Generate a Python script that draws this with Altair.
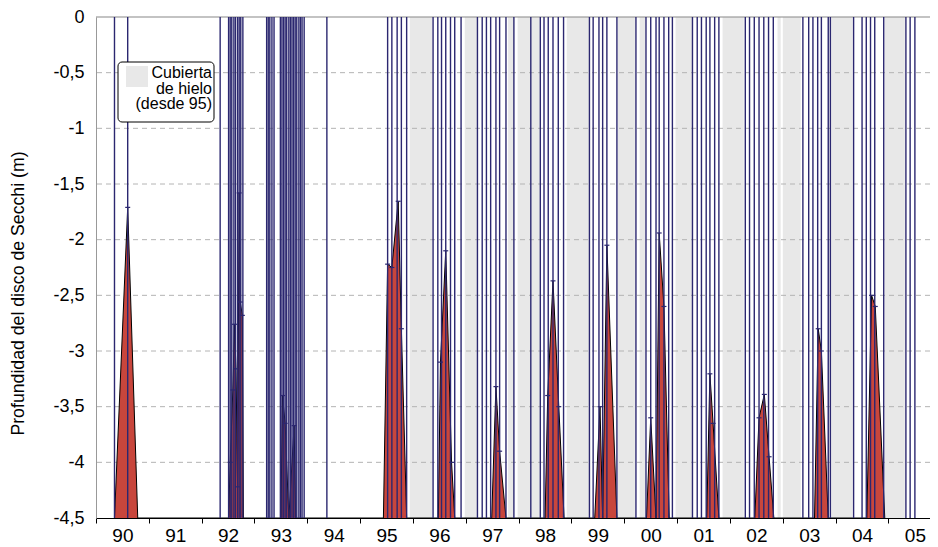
import altair as alt
import pandas as pd

# ---------------- data ----------------
area_year = [
    1990.35, 1990.60, 1990.79,
    1992.51, 1992.54, 1992.59, 1992.62, 1992.65, 1992.68, 1992.71, 1992.73, 1992.77, 1992.79,
    1993.50, 1993.53, 1993.58, 1993.65, 1993.75, 1993.78,
    1995.44, 1995.52, 1995.60, 1995.72, 1995.78, 1995.88,
    1996.48, 1996.52, 1996.62, 1996.73, 1996.79,
    1997.49, 1997.57, 1997.64, 1997.76,
    1998.50, 1998.55, 1998.65, 1998.76, 1998.86,
    1999.44, 1999.54, 1999.59, 1999.67, 1999.86,
    2000.42, 2000.50, 2000.60, 2000.66, 2000.75, 2000.85,
    2001.56, 2001.62, 2001.68, 2001.79,
    2002.47, 2002.55, 2002.65, 2002.74, 2002.83,
    2003.60, 2003.67, 2003.73, 2003.86,
    2004.59, 2004.68, 2004.75, 2004.93,
]
area_depth = [
    -4.5, -1.71, -4.5,
    -4.5, -4.0, -3.35, -2.76, -3.16, -4.22, -1.58, -2.56, -2.68, -4.5,
    -4.5, -3.40, -3.65, -4.5, -3.67, -4.5,
    -4.5, -2.22, -2.25, -1.655, -2.80, -4.5,
    -4.5, -3.10, -2.10, -4.0, -4.5,
    -4.5, -3.32, -3.90, -4.5,
    -4.5, -3.40, -2.37, -3.50, -4.5,
    -4.5, -3.50, -4.5, -2.05, -4.5,
    -4.5, -3.60, -4.5, -1.94, -2.60, -4.5,
    -4.5, -3.205, -3.65, -4.5,
    -4.5, -3.60, -3.39, -3.95, -4.5,
    -4.5, -2.80, -3.00, -4.5,
    -4.5, -2.50, -2.60, -4.5,
]

sample_year = [
    1990.35, 1990.60, 1992.35,
    1992.51, 1992.54, 1992.57, 1992.61, 1992.64, 1992.68, 1992.71, 1992.74, 1992.78,
    1993.23, 1993.26, 1993.29, 1993.33, 1993.37,
    1993.49, 1993.52, 1993.55, 1993.58, 1993.61, 1993.65, 1993.68, 1993.71,
    1993.74, 1993.77, 1993.80, 1993.84, 1993.87, 1993.90, 1993.94,
    1994.37,
    1995.52, 1995.60, 1995.70, 1995.78, 1995.88,
    1996.38, 1996.47, 1996.54, 1996.62, 1996.71, 1996.79, 1996.91,
    1997.22, 1997.31, 1997.39, 1997.47, 1997.57, 1997.64, 1997.76, 1997.91,
    1998.23, 1998.41, 1998.48, 1998.56, 1998.65, 1998.75, 1998.85,
    1999.34, 1999.41, 1999.52, 1999.59, 1999.67, 1999.86,
    2000.22, 2000.41, 2000.50, 2000.60, 2000.66, 2000.75, 2000.84, 2000.91,
    2001.29, 2001.38, 2001.46, 2001.55, 2001.62, 2001.71, 2001.79,
    2002.29, 2002.37, 2002.46, 2002.55, 2002.64, 2002.73, 2002.82,
    2003.38, 2003.49, 2003.57, 2003.66, 2003.73, 2003.86, 2003.90,
    2004.34, 2004.50, 2004.58, 2004.66, 2004.74, 2004.91,
    2005.33, 2005.41, 2005.50,
]

ice_start = [1995.94, 1996.98, 1997.80, 1997.98, 1998.91, 1999.88, 2000.29,
             2000.97, 2001.86, 2002.90, 2003.00, 2003.91, 2004.93]
ice_end = [1996.36, 1997.21, 1997.91, 1998.40, 1999.33, 2000.20, 2000.39,
           2001.28, 2002.26, 2002.96, 2003.34, 2004.32, 2005.31]

year_ticks = list(range(1990, 2006))
depth_ticks = [0, -0.5, -1, -1.5, -2, -2.5, -3, -3.5, -4, -4.5]
grid_levels = [-0.5, -1, -1.5, -2, -2.5, -3, -3.5, -4]
legend_lines = ["Cubierta", "de hielo", "(desde 95)"]
y_title = "Profundidad del disco de Secchi (m)"

# ---------------- styles ----------------
NAVY = "#2b2770"
RED = "#c8463c"
ICE = "#e8e8e8"
FONT = "Liberation Sans"

area_df = pd.DataFrame({"year": area_year, "depth": area_depth})
caps_df = area_df[area_df["depth"] > -4.5]
sample_df = pd.DataFrame({"year": sample_year})
ice_df = pd.DataFrame({"start": ice_start, "end": ice_end})
grid_df = pd.DataFrame({"level": grid_levels})
top_df = pd.DataFrame({"level": [0]})
one = pd.DataFrame({"a": [0]})

X_SCALE = alt.Scale(domain=[1990, 2005.786], nice=False, zero=False)
Y_SCALE = alt.Scale(domain=[-4.5, 0], nice=False, zero=False)

x_axis = alt.Axis(
    values=year_ticks,
    labelExpr="substring(toString(datum.value), 2)",
    labelOffset=26.4,
    labelFlush=False,
    labelOverlap=False,
    tickSize=5,
    tickColor="black",
    domainColor="black",
    labelFontSize=19,
    labelColor="black",
    labelPadding=3,
    grid=False,
    title=None,
)
y_axis = alt.Axis(
    values=depth_ticks,
    labelExpr="replace(toString(datum.value), '.', ',')",
    ticks=False,
    labelPadding=12,
    labelFontSize=18,
    labelColor="black",
    domainColor="#999999",
    grid=False,
    title=y_title,
    titleFontSize=17.7,
    titleFontWeight="normal",
    titleColor="black",
    titlePadding=25,
    titleY=276,
)

ice = alt.Chart(ice_df).mark_rect(color=ICE).encode(
    x=alt.X("start:Q", scale=X_SCALE, axis=x_axis),
    x2="end:Q",
)

grid = alt.Chart(grid_df).mark_rule(color="#b4b4b4", strokeDash=[5, 4], strokeWidth=1).encode(
    y=alt.Y("level:Q", scale=Y_SCALE, axis=y_axis)
)

top = alt.Chart(top_df).mark_rule(color="#888888", strokeWidth=1.2).encode(
    y=alt.Y("level:Q", scale=Y_SCALE, axis=y_axis)
)

area = alt.Chart(area_df).mark_area(
    color=RED, opacity=1, line={"color": "black", "strokeWidth": 1}, interpolate="linear"
).encode(
    x=alt.X("year:Q", scale=X_SCALE, axis=x_axis),
    y=alt.Y("depth:Q", scale=Y_SCALE, axis=y_axis),
    y2=alt.datum(-4.5),
)

rules = alt.Chart(sample_df).mark_rule(color=NAVY, strokeWidth=1.4).encode(
    x=alt.X("year:Q", scale=X_SCALE, axis=x_axis)
)

caps = alt.Chart(caps_df).mark_point(
    shape="M-1,0H1", size=25, filled=False, color=NAVY, strokeWidth=1.2, opacity=1
).encode(
    x=alt.X("year:Q", scale=X_SCALE, axis=x_axis),
    y=alt.Y("depth:Q", scale=Y_SCALE, axis=y_axis),
)

legend_box = alt.Chart(one).mark_rect(
    fill="white", stroke="black", strokeWidth=1, cornerRadius=4
).encode(x=alt.value(22), x2=alt.value(118), y=alt.value(45), y2=alt.value(105))

legend_swatch = alt.Chart(one).mark_rect(fill=ICE).encode(
    x=alt.value(30), x2=alt.value(52), y=alt.value(49), y2=alt.value(70)
)

legend_text = alt.Chart(one).mark_text(
    text=legend_lines, align="right", baseline="top", fontSize=16, lineHeight=15.5,
    color="black", font=FONT
).encode(x=alt.value(116), y=alt.value(48))

chart = alt.layer(
    ice, grid, top, area, rules, caps, legend_box, legend_swatch, legend_text
).properties(
    width=834,
    height=501,
    autosize=alt.AutoSizeParams(type="none"),
    padding={"left": 88, "top": 9, "right": 0, "bottom": 29},
).configure(font=FONT).configure_view(stroke=None)

chart.save("out.html", embed_options={"renderer": "svg", "actions": False})
